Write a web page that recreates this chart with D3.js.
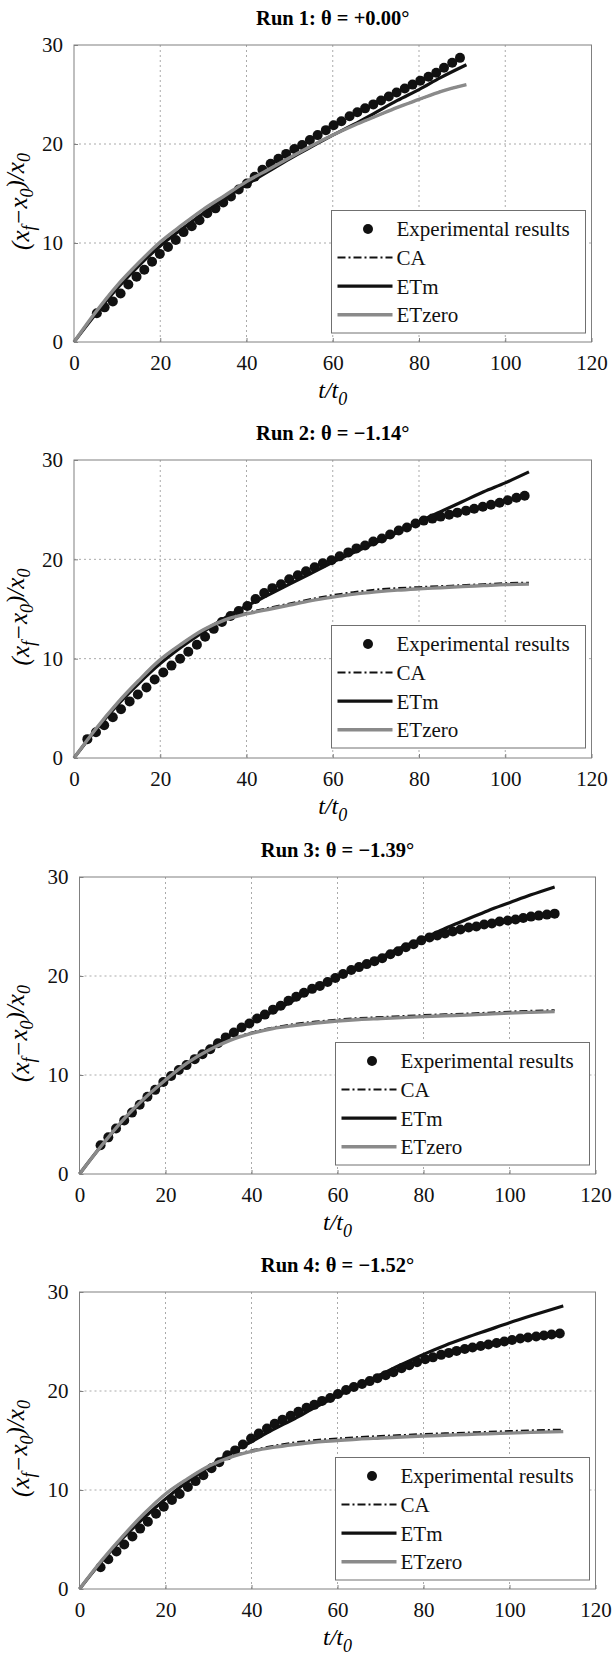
<!DOCTYPE html>
<html>
<head>
<meta charset="utf-8">
<script src="https://cdn.jsdelivr.net/npm/d3@7"></script>
<style>
  body { margin: 0; background: #fff; }
  svg { display: block; }
</style>
</head>
<body>
<div id="chart"></div>
<script>
const xTicks = [0, 20, 40, 60, 80, 100, 120];
const yTicks = [0, 10, 20, 30];
const legendLabels = ["Experimental results", "CA", "ETm", "ETzero"];
const titles = ["Run 1: θ = +0.00°", "Run 2: θ = −1.14°", "Run 3: θ = −1.39°", "Run 4: θ = −1.52°"];

// Run 1
const run1ExpX = [5.3,7.1,9.0,10.8,12.6,14.5,16.3,18.1,19.9,21.8,23.6,25.4,27.3,29.1,30.9,32.8,34.6,36.4,38.2,40.1,41.9,43.7,45.6,47.4,49.2,51.1,52.9,54.7,56.5,58.4,60.2,62.0,63.9,65.7,67.5,69.4,71.2,73.0,74.8,76.7,78.5,80.3,82.2,84.0,85.8,87.7,89.5];
const run1ExpY = [2.9,3.5,4.1,4.9,5.8,6.6,7.3,8.1,8.9,9.6,10.3,11.1,11.7,12.3,13.0,13.5,14.1,14.7,15.4,16.0,16.7,17.4,18.0,18.5,19.0,19.5,19.9,20.4,20.9,21.4,21.9,22.3,22.8,23.2,23.6,24.0,24.4,24.8,25.2,25.6,26.0,26.4,26.8,27.2,27.7,28.2,28.7];
const run1ModelX = [0,5,10,15,20,25,30,35,40,45,50,55,60,65,70,75,80,85,91];
const run1CA     = [0,3.0,5.7,8.0,10.1,11.8,13.4,14.8,16.2,17.4,18.6,19.8,20.9,21.9,22.8,23.7,24.5,25.3,26.0];
const run1ETm    = [0,2.8,5.4,7.7,9.7,11.4,13.0,14.5,15.9,17.2,18.5,19.7,20.9,22.0,23.2,24.4,25.5,26.7,28.0];
const run1ETzero = [0,3.0,5.7,8.0,10.1,11.8,13.4,14.8,16.2,17.4,18.6,19.8,20.9,21.9,22.8,23.7,24.5,25.3,26.0];

// Run 2
const run2ExpX = [3.1,5.1,7.0,9.0,10.9,12.9,14.8,16.8,18.7,20.7,22.6,24.6,26.5,28.5,30.4,32.4,34.3,36.3,38.2,40.2,42.1,44.1,46.0,48.0,49.9,51.9,53.8,55.8,57.7,59.7,61.6,63.6,65.5,67.5,69.4,71.4,73.3,75.3,77.2,79.2,81.1,83.1,85.0,87.0,88.9,90.9,92.8,94.8,96.7,98.7,100.6,102.6,104.5];
const run2ExpY = [1.9,2.6,3.3,4.1,4.9,5.7,6.4,7.1,7.9,8.6,9.3,10.0,10.7,11.4,12.2,13.0,13.7,14.3,14.8,15.3,16.0,16.6,17.1,17.5,18.0,18.4,18.8,19.2,19.6,19.9,20.3,20.7,21.1,21.4,21.8,22.1,22.5,22.9,23.2,23.6,23.9,24.1,24.3,24.5,24.7,24.9,25.1,25.3,25.5,25.7,25.95,26.2,26.4];
const run2ModelX = [0,5,10,15,20,25,30,35,40,45,50,55,60,65,70,75,80,85,90,95,100,105.5];
const run2CA     = [0,2.9,5.5,7.8,9.9,11.5,12.9,13.95,14.6,15.1,15.55,16.0,16.4,16.7,16.95,17.1,17.2,17.3,17.4,17.5,17.6,17.65];
const run2ETm    = [0,2.8,5.3,7.5,9.5,11.2,12.7,14.1,15.3,16.4,17.5,18.6,19.7,20.7,21.7,22.7,23.8,24.8,25.8,26.8,27.7,28.8];
const run2ETzero = [0,2.9,5.5,7.8,9.9,11.5,12.9,13.9,14.5,14.95,15.4,15.85,16.2,16.5,16.72,16.9,17.03,17.14,17.25,17.35,17.45,17.5];

// Run 3
const run3ExpX = [4.9,6.7,8.5,10.4,12.2,14.0,15.8,17.6,19.5,21.3,23.1,24.9,26.8,28.6,30.4,32.2,34.0,35.9,37.7,39.5,41.3,43.1,45.0,46.8,48.6,50.4,52.2,54.1,55.9,57.7,59.5,61.3,63.2,65.0,66.8,68.6,70.4,72.3,74.1,75.9,77.7,79.5,81.4,83.2,85.0,86.8,88.6,90.5,92.3,94.1,95.9,97.7,99.6,101.4,103.2,105.0,106.8,108.7,110.5];
const run3ExpY = [2.9,3.7,4.6,5.4,6.2,7.0,7.8,8.5,9.3,9.9,10.5,11.0,11.6,12.1,12.6,13.2,13.8,14.3,14.8,15.2,15.7,16.1,16.6,17.0,17.5,17.9,18.3,18.7,19.0,19.4,19.8,20.2,20.6,20.9,21.2,21.5,21.8,22.2,22.5,22.9,23.2,23.6,23.9,24.1,24.3,24.5,24.7,24.9,25.0,25.2,25.3,25.5,25.6,25.7,25.85,26.0,26.1,26.2,26.3];
const run3ModelX = [0,5,10,15,20,25,30,35,40,45,50,55,60,65,70,75,80,85,90,95,100,105,110.5];
const run3CA     = [0,2.8,5.4,7.6,9.5,11.2,12.5,13.55,14.3,14.8,15.15,15.4,15.6,15.75,15.85,15.95,16.05,16.13,16.2,16.3,16.4,16.48,16.55];
const run3ETm    = [0,2.8,5.3,7.5,9.4,11.1,12.6,14.0,15.3,16.4,17.6,18.8,19.9,20.9,21.9,22.9,23.8,24.8,25.7,26.6,27.4,28.2,29.0];
const run3ETzero = [0,2.8,5.4,7.6,9.5,11.2,12.5,13.5,14.2,14.7,15.0,15.25,15.45,15.6,15.7,15.8,15.9,15.98,16.05,16.15,16.25,16.33,16.4];

// Run 4
const run4ExpX = [4.9,6.7,8.6,10.4,12.3,14.1,15.9,17.8,19.6,21.5,23.3,25.2,27.0,28.8,30.7,32.5,34.4,36.2,38.0,39.9,41.7,43.6,45.4,47.2,49.1,50.9,52.8,54.6,56.4,58.3,60.1,62.0,63.8,65.7,67.5,69.3,71.2,73.0,74.9,76.7,78.5,80.4,82.2,84.1,85.9,87.7,89.6,91.4,93.3,95.1,97.0,98.8,100.6,102.5,104.3,106.2,108.0,109.8,111.7];
const run4ExpY = [2.2,3.0,3.8,4.5,5.3,6.1,6.8,7.6,8.3,9.0,9.6,10.3,10.9,11.5,12.2,12.8,13.5,14.0,14.6,15.2,15.7,16.2,16.7,17.1,17.5,17.9,18.3,18.6,19.0,19.3,19.7,20.1,20.4,20.7,21.0,21.3,21.6,21.9,22.3,22.6,22.9,23.2,23.4,23.65,23.85,24.05,24.25,24.4,24.55,24.7,24.85,25.0,25.15,25.3,25.4,25.5,25.6,25.7,25.8];
const run4ModelX = [0,5,10,15,20,25,30,35,40,45,50,55,60,65,70,75,80,85,90,95,100,105,112.5];
const run4CA     = [0,2.8,5.3,7.6,9.6,11.1,12.4,13.35,14.0,14.45,14.8,15.05,15.2,15.35,15.45,15.55,15.65,15.73,15.8,15.88,15.95,16.02,16.1];
const run4ETm    = [0,2.7,5.1,7.2,9.1,10.8,12.3,13.7,14.9,16.1,17.2,18.4,19.5,20.6,21.65,22.7,23.7,24.6,25.4,26.15,26.9,27.6,28.6];
const run4ETzero = [0,2.8,5.3,7.6,9.6,11.1,12.4,13.3,13.9,14.3,14.6,14.85,15.0,15.15,15.25,15.35,15.45,15.53,15.6,15.68,15.75,15.82,15.9];

const serif = '"Liberation Serif", "Times New Roman", serif';
const width = 613, height = 1657;

const panels = [
  { title: titles[0], expX: run1ExpX, expY: run1ExpY, mx: run1ModelX, ca: run1CA, etm: run1ETm, etzero: run1ETzero,
    box: { left: 74, right: 591.5, top: 45, bottom: 342 } },
  { title: titles[1], expX: run2ExpX, expY: run2ExpY, mx: run2ModelX, ca: run2CA, etm: run2ETm, etzero: run2ETzero,
    box: { left: 74, right: 591.5, top: 460, bottom: 758 } },
  { title: titles[2], expX: run3ExpX, expY: run3ExpY, mx: run3ModelX, ca: run3CA, etm: run3ETm, etzero: run3ETzero,
    box: { left: 79.5, right: 595.5, top: 877, bottom: 1174 } },
  { title: titles[3], expX: run4ExpX, expY: run4ExpY, mx: run4ModelX, ca: run4CA, etm: run4ETm, etzero: run4ETzero,
    box: { left: 79.5, right: 595.5, top: 1292, bottom: 1589 } }
];

const styles = {
  ca: { stroke: "#111", width: 2, dash: "8,3,2,3" },
  etm: { stroke: "#111", width: 3.2, dash: null },
  etzero: { stroke: "#8a8a8a", width: 3.4, dash: null }
};

const svg = d3.select("#chart").append("svg")
  .attr("width", width)
  .attr("height", height)
  .style("font-family", serif);

function drawPanel(p) {
  const b = p.box;
  const x = d3.scaleLinear().domain([0, 120]).range([b.left, b.right]);
  const y = d3.scaleLinear().domain([0, 30]).range([b.bottom, b.top]);
  const g = svg.append("g");

  // grid
  g.append("g").selectAll("line")
    .data(xTicks.slice(1, -1))
    .join("line")
    .attr("x1", d => x(d)).attr("x2", d => x(d))
    .attr("y1", b.top).attr("y2", b.bottom)
    .attr("stroke", "#aaa").attr("stroke-dasharray", "2,3");
  g.append("g").selectAll("line")
    .data(yTicks.slice(1, -1))
    .join("line")
    .attr("x1", b.left).attr("x2", b.right)
    .attr("y1", d => y(d)).attr("y2", d => y(d))
    .attr("stroke", "#aaa").attr("stroke-dasharray", "2,3");

  // experimental points
  g.append("g").selectAll("circle")
    .data(d3.zip(p.expX, p.expY))
    .join("circle")
    .attr("cx", d => x(d[0]))
    .attr("cy", d => y(d[1]))
    .attr("r", 5)
    .attr("fill", "#111");

  // model curves
  const line = d3.line().x(d => x(d[0])).y(d => y(d[1])).curve(d3.curveMonotoneX);
  ["ca", "etm", "etzero"].forEach(key => {
    const s = styles[key];
    g.append("path")
      .datum(d3.zip(p.mx, p[key]))
      .attr("fill", "none")
      .attr("stroke", s.stroke)
      .attr("stroke-width", s.width)
      .attr("stroke-dasharray", s.dash)
      .attr("d", line);
  });

  // box + axes
  g.append("rect")
    .attr("x", b.left).attr("y", b.top)
    .attr("width", b.right - b.left).attr("height", b.bottom - b.top)
    .attr("fill", "none").attr("stroke", "#808080");

  const xAxis = g.append("g")
    .attr("transform", `translate(0,${b.bottom})`)
    .call(d3.axisBottom(x).tickValues(xTicks).tickSizeInner(-4).tickSizeOuter(0).tickPadding(13));
  const yAxis = g.append("g")
    .attr("transform", `translate(${b.left},0)`)
    .call(d3.axisLeft(y).tickValues(yTicks).tickSizeInner(-4).tickSizeOuter(0).tickPadding(11));
  [xAxis, yAxis].forEach(a => {
    a.select(".domain").remove();
    a.selectAll(".tick line").attr("stroke", "#808080");
    a.selectAll(".tick text")
      .attr("fill", "#111")
      .style("font-family", serif)
      .style("font-size", "21px");
  });

  // title
  g.append("text")
    .attr("x", (b.left + b.right) / 2)
    .attr("y", b.top - 20)
    .attr("text-anchor", "middle")
    .style("font-size", "20.5px")
    .style("font-weight", "bold")
    .text(p.title);

  // x label t/t0
  const xl = g.append("text")
    .attr("x", (b.left + b.right) / 2)
    .attr("y", b.bottom + 56)
    .attr("text-anchor", "middle")
    .style("font-size", "24px")
    .style("font-style", "italic");
  xl.append("tspan").text("t/t");
  xl.append("tspan").attr("dy", "0.4em").style("font-size", "18px").text("0");

  // y label (x_f - x_0)/x_0
  const yl = g.append("text")
    .attr("transform", `translate(29,${(b.top + b.bottom) / 2 + 8}) rotate(-90)`)
    .attr("text-anchor", "middle")
    .style("font-size", "25px")
    .style("font-style", "italic");
  const parts = [["(x", false], ["f", true], ["−x", false], ["0", true], [")/x", false], ["0", true]];
  parts.forEach(([t, sub], i) => {
    yl.append("tspan")
      .attr("dy", sub ? "0.35em" : (i > 0 ? "-0.35em" : null))
      .style("font-size", sub ? "18px" : null)
      .text(t);
  });

  // legend
  const lw = 254, lh = 122.5;
  const lg = g.append("g")
    .attr("transform", `translate(${b.right - 6 - lw},${b.top + 165.5})`);
  lg.append("rect")
    .attr("width", lw).attr("height", lh)
    .attr("fill", "#fff").attr("stroke", "#707070");
  const rows = lg.selectAll("g.row")
    .data(legendLabels)
    .join("g")
    .attr("class", "row")
    .attr("transform", (d, i) => `translate(0,${18.5 + i * 28.6})`);
  rows.each(function (d, i) {
    const r = d3.select(this);
    if (i === 0) {
      r.append("circle").attr("cx", 36.5).attr("cy", 0).attr("r", 5).attr("fill", "#111");
    } else {
      const s = styles[["ca", "etm", "etzero"][i - 1]];
      r.append("line")
        .attr("x1", 6).attr("x2", 61)
        .attr("stroke", s.stroke)
        .attr("stroke-width", s.width)
        .attr("stroke-dasharray", s.dash);
    }
    r.append("text")
      .attr("x", 65)
      .attr("dy", "0.35em")
      .style("font-size", "21px")
      .attr("fill", "#111")
      .text(d);
  });
}

panels.forEach(drawPanel);
</script>
</body>
</html>
